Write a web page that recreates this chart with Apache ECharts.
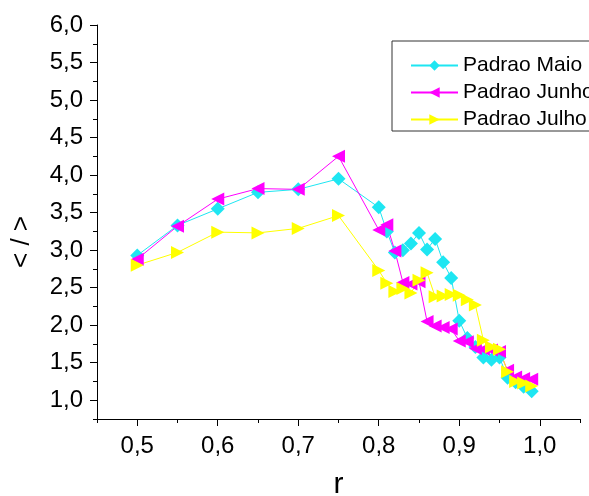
<!DOCTYPE html>
<html>
<head>
<meta charset="utf-8">
<script src="https://cdn.jsdelivr.net/npm/echarts@6/dist/echarts.min.js"></script>
<style>
html,body{margin:0;padding:0;background:#fff;}
#chart{width:589px;height:496px;}
</style>
</head>
<body>
<div id="chart"></div>
<script>
// r values (x)
var rValues = [0.50, 0.55, 0.60, 0.65, 0.70, 0.75,
  0.80, 0.81, 0.82, 0.83, 0.84, 0.85, 0.86, 0.87, 0.88, 0.89,
  0.90, 0.91, 0.92, 0.93, 0.94, 0.95, 0.96, 0.97, 0.98, 0.99];
var padraoMaio = [2.93, 3.33, 3.55, 3.77, 3.81, 3.95,
  3.57, 3.25, 2.97, 3.00, 3.09, 3.23, 3.01, 3.15, 2.84, 2.63,
  2.06, 1.83, 1.71, 1.57, 1.54, 1.57, 1.30, 1.24, 1.18, 1.12];
var padraoJunho = [2.88, 3.32, 3.68, 3.82, 3.81, 4.25,
  3.27, 3.34, 2.99, 2.57, 2.55, 2.58, 2.05, 1.99, 1.97, 1.95,
  1.79, 1.78, 1.69, 1.68, 1.67, 1.65, 1.40, 1.31, 1.29, 1.28];
var padraoJulho = [2.80, 2.97, 3.24, 3.23, 3.29, 3.46,
  2.73, 2.56, 2.45, 2.49, 2.43, 2.60, 2.70, 2.38, 2.39, 2.41,
  2.40, 2.34, 2.27, 1.80, 1.71, 1.68, 1.38, 1.25, 1.23, 1.19];
var seriesNames = ['Padrao Maio', 'Padrao Junho', 'Padrao Julho'];
var xTickLabels = [0.5, 0.6, 0.7, 0.8, 0.9, 1.0];
var xMinorTicks = [0.45, 0.55, 0.65, 0.75, 0.85, 0.95, 1.05];
var yTickLabels = [1.0, 1.5, 2.0, 2.5, 3.0, 3.5, 4.0, 4.5, 5.0, 5.5, 6.0];
var yMinorTicks = [0.75, 1.25, 1.75, 2.25, 2.75, 3.25, 3.75, 4.25, 4.75, 5.25, 5.75];

function pairs(ys) {
  return rValues.map(function (x, i) { return [x, ys[i]]; });
}
function fmt(v) { return v.toFixed(1).replace('.', ','); }

var FONT = 'Liberation Sans, Arial, sans-serif';
var chart = echarts.init(document.getElementById('chart'), null, {renderer: 'canvas'});
var axisLine = {show: true, lineStyle: {color: '#000', width: 1}};
chart.setOption({
  animation: false,
  backgroundColor: '#fff',
  grid: {left: 97, right: 9, top: 25, bottom: 77, containLabel: false, outerBoundsMode: 'none'},
  legend: {
    left: 392, top: 41, orient: 'vertical',
    data: seriesNames,
    borderColor: '#333', borderWidth: 1, borderRadius: 0,
    padding: [14, 60, 1, 18],
    itemWidth: 47, itemHeight: 13, itemGap: 6,
    textStyle: {fontFamily: FONT, fontSize: 21, color: '#000', lineHeight: 20}
  },
  xAxis: [{
    type: 'value', min: 0.45, max: 1.05,
    name: 'r', nameLocation: 'middle', nameGap: 51,
    nameTextStyle: {fontFamily: FONT, fontSize: 30, color: '#000'},
    axisLine: axisLine,
    axisTick: {show: true, inside: false, length: 7, customValues: xTickLabels, lineStyle: {color: '#000'}},
    axisLabel: {customValues: xTickLabels, formatter: fmt, fontFamily: FONT, fontSize: 24, color: '#000', margin: 15},
    splitLine: {show: false}
  }, {
    type: 'value', min: 0.45, max: 1.05, position: 'bottom',
    axisLine: {show: false},
    axisTick: {show: true, length: 4, customValues: xMinorTicks, lineStyle: {color: '#000'}},
    axisLabel: {show: false},
    splitLine: {show: false}
  }],
  yAxis: [{
    type: 'value', min: 0.75, max: 6.0,
    name: '< / >', nameLocation: 'middle', nameGap: 62, nameRotate: 90,
    nameTextStyle: {fontFamily: FONT, fontSize: 26, color: '#000', padding: [0, 40, 0, 0]},
    axisLine: axisLine,
    axisTick: {show: true, inside: false, length: 7, customValues: yTickLabels, lineStyle: {color: '#000'}},
    axisLabel: {customValues: yTickLabels, formatter: fmt, fontFamily: FONT, fontSize: 24, color: '#000', margin: 14},
    splitLine: {show: false}
  }, {
    type: 'value', min: 0.75, max: 6.0, position: 'left',
    axisLine: {show: false},
    axisTick: {show: true, length: 4, customValues: yMinorTicks, lineStyle: {color: '#000'}},
    axisLabel: {show: false},
    splitLine: {show: false}
  }],
  series: [{
    name: seriesNames[0], type: 'line', data: pairs(padraoMaio),
    symbol: 'diamond', symbolSize: 14, color: '#1ee6f2',
    lineStyle: {width: 1, color: '#1ee6f2'}, itemStyle: {color: '#1ee6f2'}
  }, {
    name: seriesNames[1], type: 'line', data: pairs(padraoJunho),
    symbol: 'triangle', symbolSize: 13, symbolRotate: 90, color: '#ff00ff',
    lineStyle: {width: 1, color: '#ff00ff'}, itemStyle: {color: '#ff00ff'}
  }, {
    name: seriesNames[2], type: 'line', data: pairs(padraoJulho),
    symbol: 'triangle', symbolSize: 13, symbolRotate: -90, color: '#ffff00',
    lineStyle: {width: 1, color: '#ffff00'}, itemStyle: {color: '#ffff00'}
  }]
});
</script>
</body>
</html>
